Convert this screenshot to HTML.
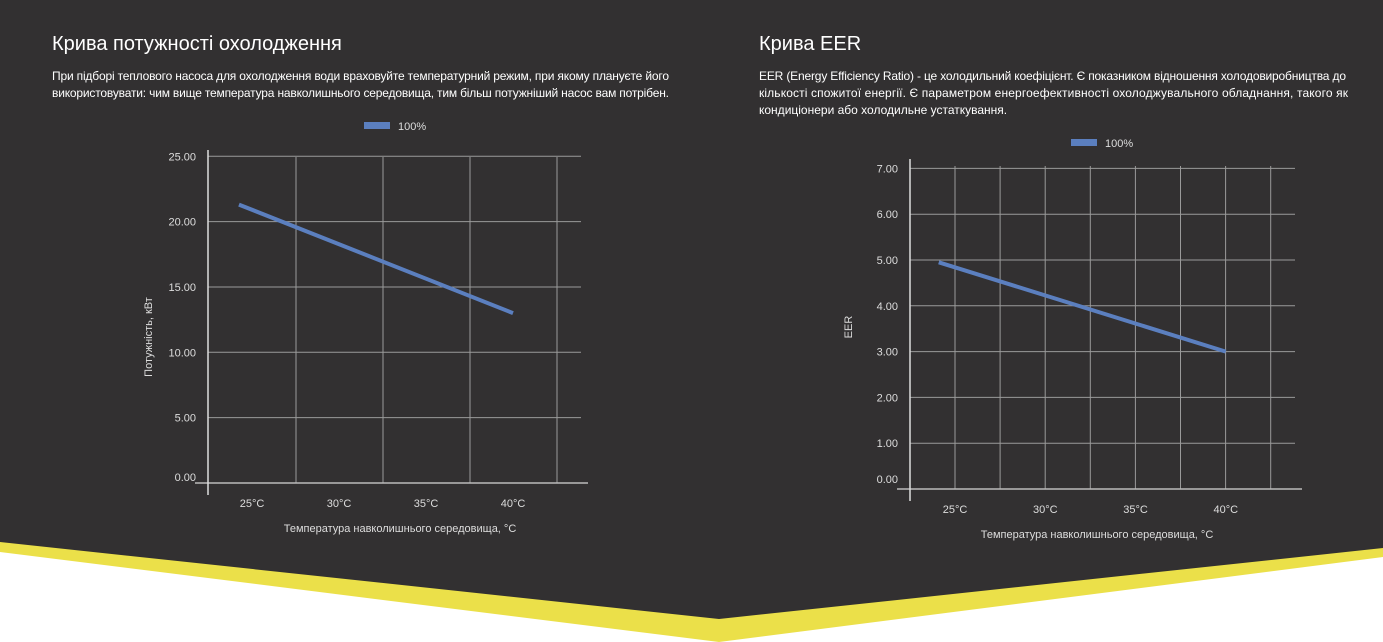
<!DOCTYPE html>
<html><head><meta charset="utf-8"><style>
html,body{margin:0;padding:0;background:#fff;}
body{width:1383px;height:642px;overflow:hidden;position:relative;font-family:"Liberation Sans",sans-serif;}
svg{position:absolute;left:0;top:0;}
.t{fill:#fff;}
</style></head><body>
<svg width="1383" height="642" viewBox="0 0 1383 642">
<polygon points="0,0 1383,0 1383,557 719,642 0,552" fill="#ebe049"/>
<polygon points="0,0 1383,0 1383,548 719,619 0,542" fill="#323031"/>
<text class="t" x="52" y="50" font-size="20">Крива потужності охолодження</text>
<text class="t" x="52" y="80" font-size="12" textLength="617">При підборі теплового насоса для охолодження води враховуйте температурний режим, при якому плануєте його</text>
<text class="t" x="52" y="97" font-size="12" textLength="617">використовувати: чим вище температура навколишнього середовища, тим більш потужніший насос вам потрібен.</text>
<text class="t" x="759" y="50" font-size="20">Крива EER</text>
<text class="t" x="759" y="80" font-size="12" textLength="587">EER (Energy Efficiency Ratio) - це холодильний коефіцієнт. Є показником відношення холодовиробництва до</text>
<text class="t" x="759" y="97" font-size="12" textLength="589">кількості спожитої енергії. Є параметром енергоефективності охолоджувального обладнання, такого як</text>
<text class="t" x="759" y="114" font-size="12">кондиціонери або холодильне устаткування.</text>
<g id="c1"></g>
<g id="c2"></g>
</svg>
<script>
// Chart 1 data
const powerTemps = [24.25, 40];
const powerValues = [21.3, 13.0];
const powerYTicks = [0, 5, 10, 15, 20, 25];
const powerXLabels = [25, 30, 35, 40];
// Chart 2 data
const eerTemps = [24.1, 40];
const eerValues = [4.95, 3.0];
const eerYTicks = [0, 1, 2, 3, 4, 5, 6, 7];
const eerXLabels = [25, 30, 35, 40];

const NS = 'http://www.w3.org/2000/svg';
function mk(parent, tag, attrs, text){
  const e = document.createElementNS(NS, tag);
  for (const k in attrs) e.setAttribute(k, attrs[k]);
  if (text !== undefined) e.textContent = text;
  parent.appendChild(e); return e;
}
function drawChart(g, cfg, temps, values, yTicks, xLabels){
  const ys = v => cfg.y0 - v * cfg.yPer;
  const xs = t => cfg.x25 + (t - 25) * cfg.xPer;
  const lr = mk(g,'rect',{x:cfg.legX,y:cfg.legY-4,width:26,height:7,fill:'#5b7fbf'});
  
  
  const lt = mk(g,'text',{x:cfg.legX+34,y:cfg.legY+4,'font-size':11,fill:'#ddd'},'100%');
  
  
  yTicks.forEach(v=>{
    const y = ys(v);
    if (v !== 0) {
      const gl = mk(g,'line',{x1:cfg.axX,x2:cfg.gridR,y1:y,y2:y,stroke:'#9a9a9a','stroke-width':1});
      
      
    }
    const tl = mk(g,'text',{x:cfg.axX-12,y:y+4-(v===0?cfg.zeroLift:0),'font-size':11,fill:'#ddd','text-anchor':'end'},v.toFixed(2));
    
    
  });
  for (let x = cfg.vgStart; x <= cfg.gridR; x += cfg.vgStep) {
    const vl = mk(g,'line',{x1:x,x2:x,y1:cfg.gridTop,y2:cfg.y0,stroke:'#9a9a9a','stroke-width':1});
    
    
  }
  const ax = mk(g,'line',{x1:cfg.axX-13,x2:cfg.gridR+7,y1:cfg.y0,y2:cfg.y0,stroke:'#bbb','stroke-width':1.5});
  
  
  const ay = mk(g,'line',{x1:cfg.axX,x2:cfg.axX,y1:cfg.gridTop-7,y2:cfg.y0+12,stroke:'#ddd','stroke-width':1.5});
  
  
  xLabels.forEach(t=>{
    const xl = mk(g,'text',{x:xs(t),y:cfg.y0+24,'font-size':11,fill:'#ddd','text-anchor':'middle'},t+'°C');
    
    
  });
  const xt = mk(g,'text',{x:cfg.xTitleX,y:cfg.y0+49,'font-size':11,fill:'#ddd','text-anchor':'middle'},'Температура навколишнього середовища, °C');
  
  
  const yt = mk(g,'text',{x:0,y:0,'font-size':11,fill:'#ddd','text-anchor':'middle',transform:`translate(${cfg.yTitleX},${cfg.yTitleY}) rotate(-90)`},cfg.yTitle);
  
  
  const pts = temps.map((t,i)=>xs(t)+','+ys(values[i])).join(' ');
  const pl = mk(g,'polyline',{points:pts,fill:'none',stroke:'#5b7fbf','stroke-width':4});
  
  
}
drawChart(document.getElementById('c1'),
  {y0:483,yPer:13.07,x25:252,xPer:17.4,axX:208,gridR:581,gridTop:157,vgStart:296,vgStep:87,
   legX:364,legY:126,zeroLift:6,xTitleX:400,yTitleX:152,yTitleY:337,yTitle:'Потужність, кВт'},
  powerTemps, powerValues, powerYTicks, powerXLabels);
drawChart(document.getElementById('c2'),
  {y0:489,yPer:45.8,x25:955,xPer:18.05,axX:910,gridR:1295,gridTop:166,vgStart:955,vgStep:45.1,
   legX:1071,legY:143,zeroLift:10,xTitleX:1097,yTitleX:852,yTitleY:327,yTitle:'EER'},
  eerTemps, eerValues, eerYTicks, eerXLabels);
</script>
</body></html>
